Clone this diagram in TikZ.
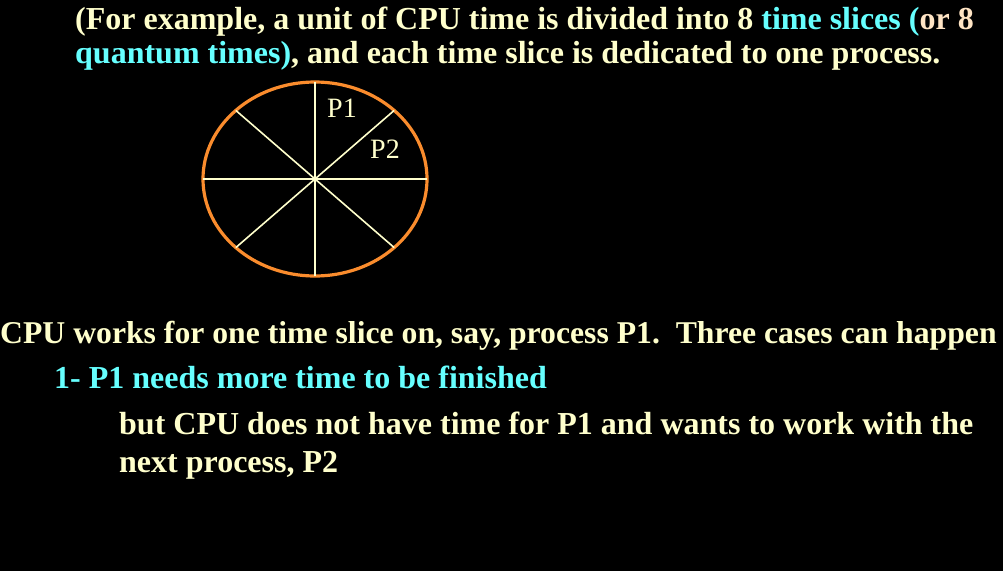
\documentclass[tikz,border=0pt]{standalone}
\usepackage{fontspec}
\setmainfont{Liberation Serif}
\usetikzlibrary{positioning}
\definecolor{cream}{RGB}{255, 255, 204}
\definecolor{aqua}{RGB}{102, 255, 255}
\definecolor{peach}{RGB}{255, 228, 196}
\definecolor{tangerine}{RGB}{250, 140, 45}

\begin{document}
\begin{tikzpicture}[x=1pt, y=-1pt,
    slide/.style={anchor=base west, inner sep=0pt, text=cream, font=\fontsize{32}{36}\selectfont\bfseries},
    slice/.style={anchor=base west, inner sep=0pt, text=cream, font=\fontsize{28}{33}\selectfont}]
            % Background
            \fill[black] (0, 0) rectangle (1003, 571);
            \useasboundingbox (0, 0) rectangle (1003, 571);
            % Example text
            \node[slide] (intro) at (75, 29)
                 {(For example, a unit of CPU time is divided into 8 \textcolor{aqua}{time slices (}\textcolor{peach}{or 8}};
            \node[slide] (intro2) at (75, 63)
                 {\textcolor{aqua}{quantum times)}, and each time slice is dedicated to one process.};
            % Time slices
            \coordinate (c) at (315, 179);
            \draw[tangerine, line width=3.2pt] (c) ellipse (112 and 97);
            \foreach \a in {0, 45, 90, 135}
                \draw[cream, line width=1.6pt] ([shift={(\a:112 and 97)}]c) -- ([shift={(\a+180:112 and 97)}]c);
            \node[slice] (p1) at (327, 117) {P1};
            \node[slice] (p2) at (370, 158) {P2};
            % Cases
            \node[slide, font=\fontsize{31.7}{36}\selectfont\bfseries] (cpu) at (0, 343)
                 {CPU works for one time slice on, say, process P1.\ \ Three cases can happen};
            \node[slide, text=aqua] (case1) at (54, 388) {1- P1 needs more time to be finished};
            \node[slide] (but) at (119, 434) {but CPU does not have time for P1 and wants to work with the};
            \node[slide] (next) at (119, 472) {next process, P2};
\end{tikzpicture}
\end{document}
